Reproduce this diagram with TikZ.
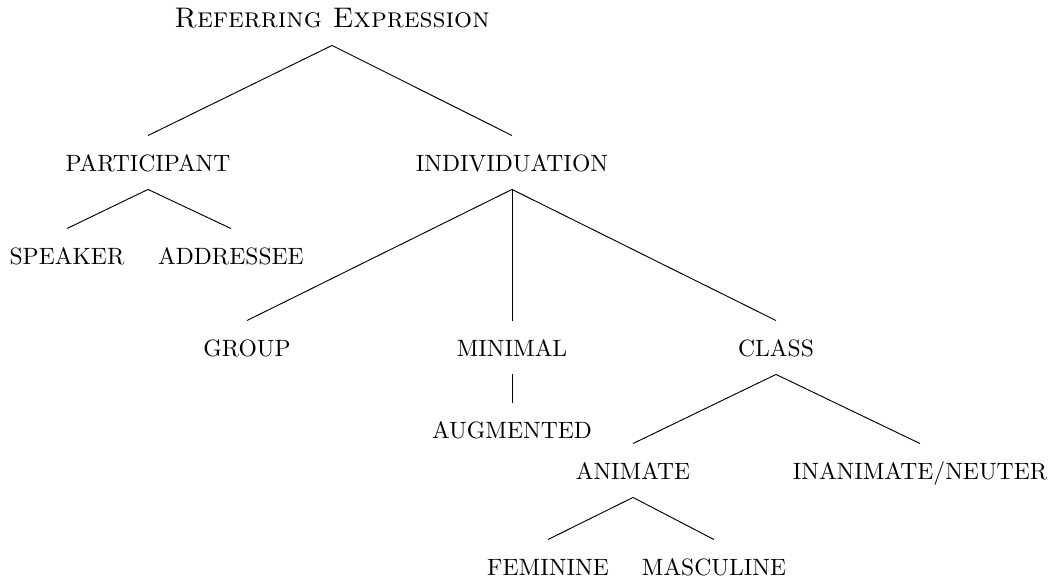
\documentclass[tikz,border=0pt]{standalone}
\begin{document}
\begin{tikzpicture}[x=0.4237pt,y=-0.4237pt,
  lbl/.style={inner sep=0pt,anchor=base,text height=6.83pt,text depth=0pt,font=\normalsize},
  rootlbl/.style={inner sep=0pt,anchor=base,font=\large\scshape},
  edge/.style={line width=0.4pt}]
\useasboundingbox (0,0) rectangle (1056,577);
\node[rootlbl] (root) at (332,27) {Referring Expression};
\node[lbl] (part) at (148,171) {PARTICIPANT};
\node[lbl] (indiv) at (512,171) {INDIVIDUATION};
\node[lbl] (spk) at (67,264) {SPEAKER};
\node[lbl] (addr) at (231,264) {ADDRESSEE};
\node[lbl] (group) at (247,356) {GROUP};
\node[lbl] (minimal) at (512,356) {MINIMAL};
\node[lbl] (class) at (776,356) {CLASS};
\node[lbl] (aug) at (512,438) {AUGMENTED};
\node[lbl] (anim) at (633,479) {ANIMATE};
\node[lbl] (inan) at (920,479) {INANIMATE$/$NEUTER};
\node[lbl] (fem) at (548,575) {FEMININE};
\node[lbl] (masc) at (714,575) {MASCULINE};
\foreach \p/\c in {root/part,root/indiv,part/spk,part/addr,indiv/group,indiv/minimal,indiv/class,minimal/aug,class/anim,class/inan,anim/fem,anim/masc}
  \draw[edge] ([yshift=-7.8pt]\p.base) -- ([yshift=8pt]\c.north);
\end{tikzpicture}
\end{document}
